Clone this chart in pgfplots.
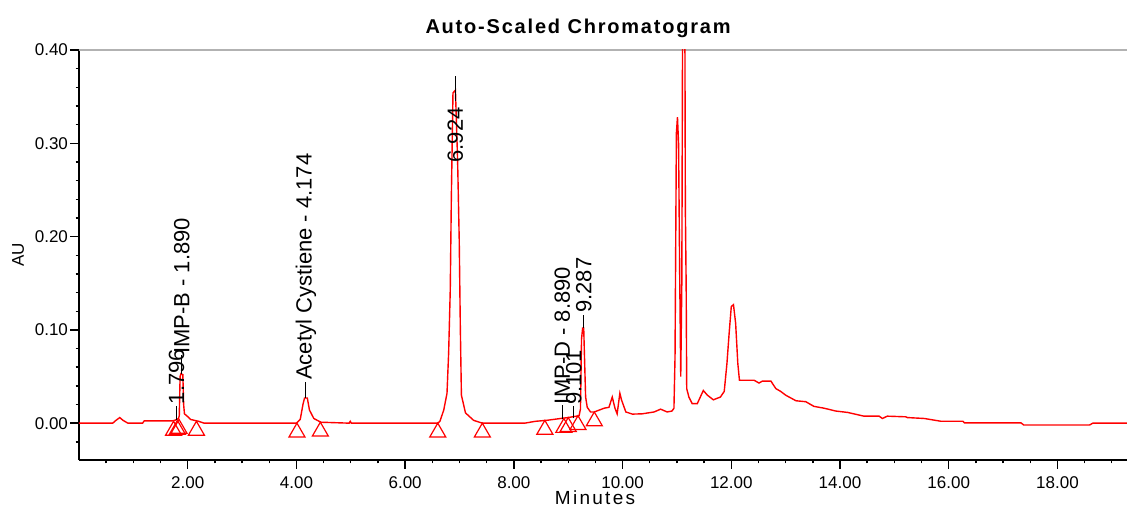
\documentclass[border=0pt]{standalone}
\usepackage{fontspec}
\setmainfont{Liberation Sans}
\usepackage{pgfplots}
\pgfplotsset{compat=1.18}
\definecolor{trace}{HTML}{FF0000}
\newcommand{\pklabel}{\fontsize{11}{13}\selectfont}

\begin{document}
\begin{tikzpicture}
\begin{axis}[
  at={(0,0)}, anchor=south west,
  scale only axis, width=524pt, height=205pt,
  xmin=0, xmax=19.28, ymin=-0.0395, ymax=0.40,
  axis x line*=bottom, axis y line*=left,
  axis line style={black, line width=0.9pt},
  tick style={black, line width=0.7pt},
  tick align=outside,
  major tick length=4.3pt, minor tick length=1.7pt,
  xtick={2,4,...,18},
  minor xtick={0.5,1,...,19},
  ytick={0,0.1,0.2,0.3,0.4},
  minor ytick={-0.02,0.02,0.04,0.06,0.08,0.12,0.14,0.16,0.18,0.22,0.24,0.26,0.28,0.32,0.34,0.36,0.38},
  /pgf/number format/.cd, fixed, fixed zerofill, precision=2, assume math mode=true,
  /pgfplots/.cd,
  ticklabel style={font=\fontsize{8.5}{10}\selectfont},
  yticklabel style={xshift=2.3pt},
  xticklabel style={yshift=-0.6pt},
  every axis title shift=0pt,
  title={\addfontfeature{LetterSpace=9}\textbf{Auto-Scaled Chromatogram}},
  title style={at={(rel axis cs:0.4771,1)}, anchor=base, yshift=8.4pt, font=\fontsize{10}{12}\selectfont, inner sep=0pt},
  xlabel={\addfontfeature{LetterSpace=12}Minutes},
  xlabel style={at={(rel axis cs:0.4924,0)}, anchor=base, yshift=-22.2pt, font=\fontsize{9.5}{11}\selectfont, inner sep=0pt},
  ylabel={AU},
  ylabel style={at={(axis description cs:-0.0582,0.5)}, anchor=center, font=\fontsize{8.5}{10}\selectfont, inner sep=0pt},
  clip mode=individual,
]
% frame line along the top
\draw[gray!60, line width=0.6pt] (rel axis cs:0,1) -- (rel axis cs:1,1);

% detector trace
\addplot[trace, line width=0.7pt] coordinates {
(0.00,0.000) (0.62,0.000) (0.68,0.003) (0.75,0.006) (0.81,0.003) (0.90,0.000)
(1.17,0.000) (1.20,0.0025) (1.72,0.0025) (1.76,0.003) (1.80,0.004) (1.83,0.005)
(1.845,0.008) (1.86,0.050) (1.875,0.053) (1.91,0.052) (1.925,0.020) (1.94,0.010)
(2.00,0.007) (2.05,0.004) (2.20,0.002) (2.30,0.000)
(4.00,0.000) (4.07,0.004) (4.12,0.020) (4.15,0.027) (4.20,0.027) (4.24,0.014)
(4.32,0.005) (4.45,0.001) (4.97,0.000) (4.99,0.002) (5.01,0.000)
(6.60,0.000) (6.64,0.002) (6.71,0.014) (6.77,0.032) (6.80,0.075) (6.83,0.143)
(6.85,0.242) (6.88,0.354) (6.925,0.357) (6.965,0.282) (6.995,0.196) (7.015,0.103)
(7.035,0.030) (7.11,0.011) (7.26,0.003) (7.42,0.000)
(8.20,0.000) (8.40,0.002) (8.60,0.003) (8.86,0.005) (9.00,0.006) (9.10,0.007)
(9.20,0.008) (9.225,0.015) (9.245,0.090) (9.265,0.102) (9.285,0.102) (9.30,0.070)
(9.32,0.028) (9.35,0.017) (9.41,0.012) (9.48,0.012) (9.66,0.016) (9.75,0.017)
(9.81,0.028) (9.86,0.016) (9.90,0.010) (9.95,0.032) (9.98,0.025) (10.06,0.012)
(10.18,0.0097) (10.36,0.010) (10.58,0.012) (10.70,0.015) (10.82,0.012) (10.91,0.013)
(10.945,0.016) (10.965,0.071) (10.99,0.311) (11.01,0.328) (11.03,0.300) (11.05,0.164)
(11.07,0.050) (11.09,0.150) (11.105,0.45) (11.125,0.60) (11.145,0.45) (11.155,0.230)
(11.17,0.146) (11.18,0.037) (11.22,0.028) (11.28,0.021) (11.375,0.021) (11.485,0.035)
(11.56,0.030) (11.67,0.025) (11.80,0.028) (11.87,0.034) (11.92,0.064) (11.96,0.096)
(12.00,0.125) (12.04,0.127) (12.08,0.107) (12.12,0.064) (12.15,0.046) (12.42,0.046)
(12.51,0.043) (12.57,0.045) (12.73,0.045) (12.82,0.037) (12.91,0.034) (13.00,0.030)
(13.19,0.024) (13.37,0.023) (13.52,0.018) (13.71,0.016) (13.92,0.013) (14.14,0.0115)
(14.44,0.0075) (14.72,0.0075) (14.78,0.005) (14.87,0.0075) (15.21,0.0068) (15.24,0.006)
(15.55,0.005) (15.86,0.002) (16.26,0.002) (16.29,0.0003) (17.33,0.0003) (17.38,-0.002)
(18.59,-0.002) (18.65,0.000) (19.28,0.000)
};

% peak start / end markers
\addplot[trace, only marks, mark=triangle, mark size=4.62pt,
  mark options={line width=0.6pt, yshift=-4.62pt}] coordinates {
(1.74,0.002) (1.81,0.003) (1.84,0.004) (2.16,0.002)
(4.01,0.000) (4.44,0.001) (6.60,0.000) (7.42,0.000)
(8.57,0.003) (8.92,0.005) (9.00,0.006) (9.18,0.008) (9.48,0.012)
};

% retention time ticks
\addplot[black, line width=0.6pt, unbounded coords=jump] coordinates {
(1.796,0.003) (1.796,0.018) (1.796,nan)
(1.890,0.053) (1.890,0.073) (1.890,nan)
(4.174,0.027) (4.174,0.044) (4.174,nan)
(6.924,0.345) (6.924,0.372) (6.924,nan)
(8.890,0.004) (8.890,0.019) (8.890,nan)
(9.101,0.005) (9.101,0.018) (9.101,nan)
(9.287,0.102) (9.287,0.116)
};

\node[rotate=90, anchor=west, inner sep=0.5pt, font=\pklabel] at (axis cs:1.796,0.019) {1.796};
\node[rotate=90, anchor=west, inner sep=0.5pt, font=\pklabel] at (axis cs:1.890,0.073) {IMP-B - 1.890};
\node[rotate=90, anchor=west, inner sep=0.5pt, font=\pklabel] at (axis cs:4.174,0.045) {Acetyl Cystiene - 4.174};
\node[rotate=90, anchor=east, inner sep=0.5pt, font=\pklabel] at (axis cs:6.924,0.340) {6.924};
\node[rotate=90, anchor=west, inner sep=0.5pt, font=\pklabel] at (axis cs:8.890,0.019) {IMP-D - 8.890};
\node[rotate=90, anchor=west, inner sep=0.5pt, font=\pklabel] at (axis cs:9.101,0.018) {9.101};
\node[rotate=90, anchor=west, inner sep=0.5pt, font=\pklabel] at (axis cs:9.287,0.117) {9.287};
\end{axis}
\pgfresetboundingbox
\useasboundingbox (-39.5pt,-24.5pt) rectangle (524pt,230pt);
\end{tikzpicture}
\end{document}
